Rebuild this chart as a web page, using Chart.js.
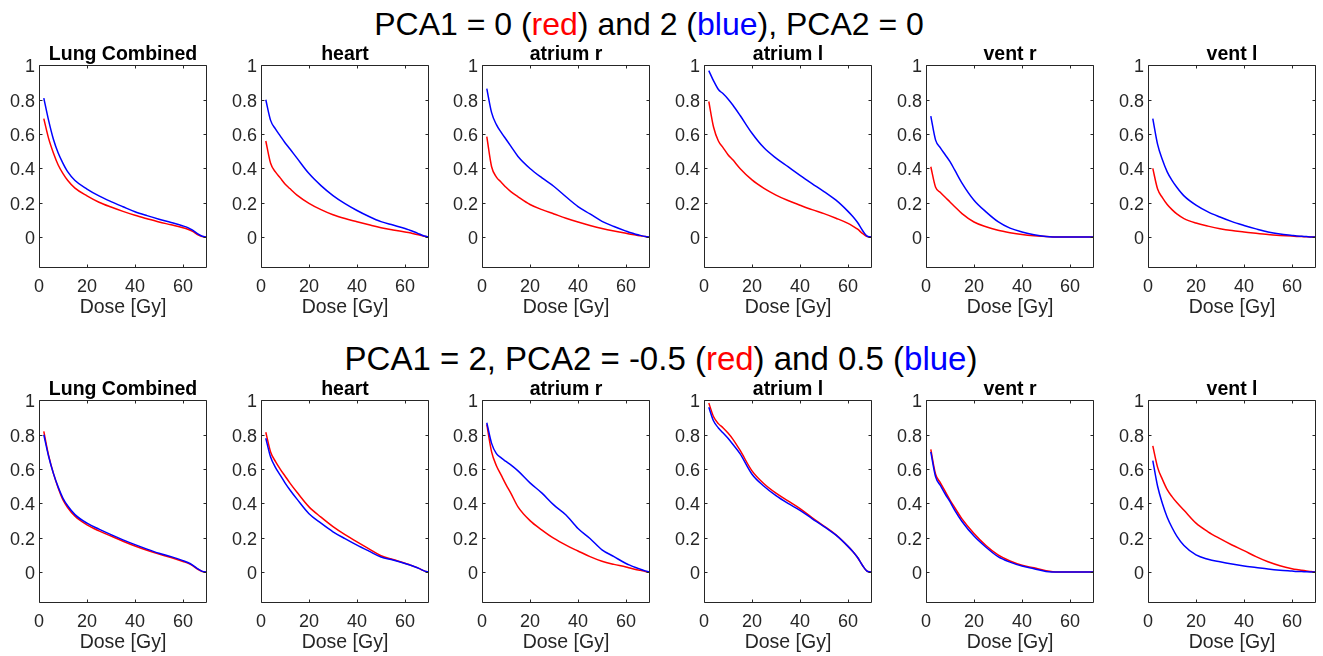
<!DOCTYPE html>
<html><head><meta charset="utf-8">
<script src="https://cdn.jsdelivr.net/npm/chart.js@4"></script>
<style>
body{margin:0;background:#fff;width:1323px;height:656px;overflow:hidden;position:relative;font-family:"Liberation Sans",Arial,sans-serif;}
.t{position:absolute;width:1000px;text-align:center;line-height:32px;color:#000;white-space:nowrap;}
.r{color:#ff0000}.b{color:#0000ff}
canvas{position:absolute;}
</style></head><body>
<div class="t" style="left:149px;top:8px;font-size:32px">PCA1 = 0 (<span class="r">red</span>) and 2 (<span class="b">blue</span>), PCA2 = 0</div>
<div class="t" style="left:161px;top:343px;font-size:33px">PCA1 = 2, PCA2 = -0.5 (<span class="r">red</span>) and 0.5 (<span class="b">blue</span>)</div>
<script>
// ---- data ----
const dose = [2,4,6,8,10,12,15,20,25,30,35,40,45,50,55,60,62,64,66,68,70];
const structures = ['Lung Combined','heart','atrium r','atrium l','vent r','vent l'];
const xTicks = [0,20,40,60];
const yTicks = [0,0.2,0.4,0.6,0.8,1];
const xLabel = 'Dose [Gy]';

// Row 1: PCA1 = 0 (red) and 2 (blue), PCA2 = 0
const r1LungRed   = [0.69,0.575,0.49,0.42,0.37,0.33,0.285,0.24,0.203,0.175,0.15,0.127,0.107,0.088,0.072,0.055,0.046,0.033,0.015,0.003,0];
const r1LungBlue  = [0.81,0.68,0.57,0.49,0.43,0.38,0.33,0.28,0.24,0.207,0.177,0.148,0.125,0.104,0.085,0.065,0.055,0.04,0.02,0.005,0];
const r1HeartRed  = [0.56,0.43,0.38,0.345,0.31,0.283,0.245,0.197,0.16,0.13,0.108,0.09,0.072,0.055,0.042,0.03,0.025,0.018,0.012,0.005,0];
const r1HeartBlue = [0.80,0.68,0.63,0.59,0.55,0.515,0.46,0.37,0.30,0.242,0.195,0.155,0.12,0.09,0.07,0.05,0.04,0.03,0.018,0.006,0];
const r1AtrRRed   = [0.585,0.41,0.35,0.32,0.29,0.265,0.235,0.19,0.16,0.135,0.11,0.088,0.068,0.05,0.035,0.022,0.017,0.012,0.008,0.003,0];
const r1AtrRBlue  = [0.865,0.725,0.655,0.61,0.57,0.53,0.47,0.40,0.345,0.295,0.235,0.178,0.135,0.092,0.062,0.035,0.025,0.017,0.01,0.004,0];
const r1AtrLRed   = [0.79,0.64,0.56,0.52,0.48,0.45,0.40,0.333,0.284,0.245,0.213,0.186,0.16,0.137,0.11,0.08,0.064,0.046,0.022,0.003,0];
const r1AtrLBlue  = [0.97,0.91,0.86,0.835,0.805,0.77,0.71,0.605,0.52,0.46,0.41,0.36,0.312,0.265,0.215,0.15,0.12,0.085,0.04,0.005,0];
const r1VentRRed  = [0.41,0.29,0.26,0.232,0.205,0.177,0.137,0.088,0.06,0.04,0.026,0.015,0.008,0.004,0,0,0,0,0,0,0];
const r1VentRBlue = [0.705,0.565,0.52,0.48,0.44,0.39,0.315,0.215,0.147,0.09,0.052,0.03,0.014,0.004,0,0,0,0,0,0,0];
const r1VentLRed  = [0.40,0.28,0.23,0.19,0.16,0.135,0.108,0.082,0.064,0.049,0.038,0.03,0.022,0.015,0.01,0.006,0.004,0.003,0.002,0.001,0];
const r1VentLBlue = [0.69,0.54,0.45,0.38,0.33,0.29,0.24,0.186,0.147,0.117,0.09,0.068,0.048,0.03,0.018,0.01,0.007,0.005,0.003,0.001,0];

// Row 2: PCA1 = 2, PCA2 = -0.5 (red) and 0.5 (blue)
const r2LungRed   = [0.82,0.68,0.575,0.49,0.42,0.375,0.325,0.275,0.24,0.21,0.18,0.152,0.127,0.105,0.085,0.062,0.052,0.038,0.018,0.004,0];
const r2LungBlue  = [0.80,0.675,0.575,0.495,0.43,0.385,0.335,0.285,0.25,0.218,0.188,0.16,0.134,0.11,0.09,0.067,0.056,0.041,0.02,0.004,0];
const r2HeartRed  = [0.815,0.70,0.645,0.60,0.56,0.52,0.465,0.38,0.32,0.265,0.218,0.176,0.135,0.095,0.073,0.052,0.042,0.032,0.02,0.007,0];
const r2HeartBlue = [0.78,0.67,0.61,0.565,0.52,0.48,0.425,0.34,0.285,0.235,0.195,0.157,0.122,0.088,0.07,0.05,0.041,0.031,0.02,0.007,0];
const r2AtrRRed   = [0.86,0.70,0.62,0.565,0.51,0.46,0.38,0.30,0.245,0.196,0.157,0.123,0.09,0.063,0.045,0.03,0.022,0.015,0.01,0.004,0];
const r2AtrRBlue  = [0.87,0.75,0.69,0.665,0.645,0.625,0.59,0.52,0.46,0.39,0.333,0.254,0.196,0.13,0.09,0.05,0.038,0.027,0.017,0.007,0];
const r2AtrLRed   = [0.985,0.905,0.865,0.84,0.81,0.775,0.71,0.59,0.515,0.46,0.415,0.37,0.318,0.268,0.217,0.15,0.12,0.085,0.04,0.005,0];
const r2AtrLBlue  = [0.96,0.88,0.84,0.81,0.78,0.745,0.69,0.57,0.50,0.445,0.40,0.36,0.312,0.265,0.215,0.15,0.12,0.085,0.04,0.005,0];
const r2VentRRed  = [0.715,0.57,0.52,0.47,0.42,0.375,0.31,0.225,0.155,0.10,0.065,0.04,0.025,0.008,0,0,0,0,0,0,0];
const r2VentRBlue = [0.70,0.555,0.505,0.455,0.41,0.36,0.295,0.21,0.145,0.09,0.058,0.035,0.02,0.004,0,0,0,0,0,0,0];
const r2VentLRed  = [0.735,0.61,0.54,0.48,0.44,0.405,0.36,0.285,0.235,0.195,0.158,0.125,0.09,0.06,0.037,0.02,0.015,0.011,0.007,0.003,0];
const r2VentLBlue = [0.65,0.50,0.40,0.32,0.26,0.21,0.155,0.10,0.075,0.06,0.047,0.036,0.027,0.018,0.011,0.006,0.004,0.003,0.002,0.001,0];

const row1 = [[r1LungRed,r1LungBlue],[r1HeartRed,r1HeartBlue],[r1AtrRRed,r1AtrRBlue],[r1AtrLRed,r1AtrLBlue],[r1VentRRed,r1VentRBlue],[r1VentLRed,r1VentLBlue]];
const row2 = [[r2LungRed,r2LungBlue],[r2HeartRed,r2HeartBlue],[r2AtrRRed,r2AtrRBlue],[r2AtrLRed,r2AtrLBlue],[r2VentRRed,r2VentRBlue],[r2VentLRed,r2VentLBlue]];

// ---- layout ----
const FONT = '"Liberation Sans", Arial, sans-serif';
const AX = '#262626';
const plotLefts = [39,261,482,704,926,1148];
const rowTops = [40,375];
const YW = 36, RP = 6, CW = 210, CH = 280;

const boxPlugin = {
  id:'box',
  afterDatasetsDraw(chart){
    const {ctx, chartArea:a, scales:{x,y}} = chart;
    ctx.save();
    ctx.strokeStyle = AX; ctx.lineWidth = 1;
    const l=Math.round(a.left)+0.5, r=Math.round(a.right)-0.5, t=Math.round(a.top)+0.5, b=Math.round(a.bottom)-0.5;
    ctx.beginPath();
    ctx.rect(l,t,r-l,b-t);
    const tl = 3;
    xTicks.forEach(v=>{const p=Math.round(x.getPixelForValue(v))+0.5; ctx.moveTo(p,b); ctx.lineTo(p,b-tl); ctx.moveTo(p,t); ctx.lineTo(p,t+tl);});
    yTicks.forEach(v=>{const p=Math.round(y.getPixelForValue(v))+0.5; ctx.moveTo(l,p); ctx.lineTo(l+tl,p); ctx.moveTo(r,p); ctx.lineTo(r-tl,p);});
    ctx.stroke();
    ctx.restore();
  }
};

function makePanel(rowIdx, col, pair){
  const cv = document.createElement('canvas');
  cv.width = CW; cv.height = CH;
  cv.style.left = (plotLefts[col]-YW)+'px';
  cv.style.top = rowTops[rowIdx]+'px';
  cv.style.width = CW+'px'; cv.style.height = CH+'px';
  document.body.appendChild(cv);
  const pts = arr => dose.map((d,i)=>({x:d,y:arr[i]}));
  new Chart(cv.getContext('2d'), {
    type:'line',
    data:{datasets:[
      {label:'blue', data:pts(pair[1]), borderColor:'#0000ff', borderWidth:1.5, pointRadius:0, cubicInterpolationMode:'monotone', fill:false},
      {label:'red', data:pts(pair[0]), borderColor:'#ff0000', borderWidth:1.5, pointRadius:0, cubicInterpolationMode:'monotone', fill:false}
    ]},
    options:{
      responsive:false, animation:false, devicePixelRatio:1,
      layout:{padding:{left:0,right:RP,top:0,bottom:0}},
      plugins:{
        legend:{display:false}, tooltip:{enabled:false},
        title:{display:true, fullSize:false, text:structures[col], color:'#000',
          font:{family:FONT, size:19.5, weight:'bold', lineHeight:1.1}, padding:{top:4,bottom:0}}
      },
      scales:{
        x:{type:'linear', min:0, max:70,
          grid:{display:false, drawTicks:false}, border:{display:false},
          afterBuildTicks:s=>{s.ticks = xTicks.map(v=>({value:v}));},
          afterFit:s=>{s.height = 52;},
          ticks:{color:AX, font:{family:FONT,size:18}, padding:8, maxRotation:0, autoSkip:false, callback:v=>String(v)},
          title:{display:true, text:xLabel, color:AX, font:{family:FONT,size:19.5,lineHeight:1.2}, padding:{top:0,bottom:1}}
        },
        y:{type:'linear', min:-0.18, max:1,
          grid:{display:false, drawTicks:false}, border:{display:false},
          afterBuildTicks:s=>{s.ticks = yTicks.map(v=>({value:v}));},
          afterFit:s=>{s.width = YW;},
          ticks:{color:AX, font:{family:FONT,size:18}, padding:4, labelOffset:2, autoSkip:false, callback:v=>String(v)}
        }
      }
    },
    plugins:[boxPlugin]
  });
}
row1.forEach((p,c)=>makePanel(0,c,p));
row2.forEach((p,c)=>makePanel(1,c,p));
</script>
</body></html>
